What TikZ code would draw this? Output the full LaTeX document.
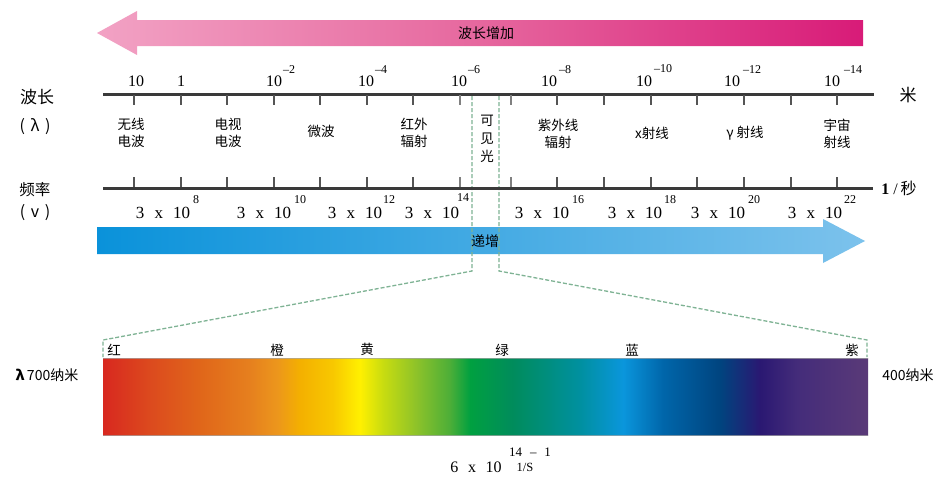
\documentclass[tikz,border=0pt]{standalone}
\usepackage{fontspec}
\setmainfont{Liberation Serif}
\newfontfamily\cjk{Noto Sans CJK SC}
\definecolor{axiscol}{HTML}{3A3A3A}
\definecolor{tickcol}{HTML}{555555}
\definecolor{dashcol}{HTML}{7FB394}
\definecolor{pinkL}{HTML}{F2A2C4}
\definecolor{pinkM}{HTML}{E6679E}
\definecolor{pinkR}{HTML}{D81B78}
\definecolor{blueL}{HTML}{0A92DA}
\definecolor{blueR}{HTML}{7CC2EC}
\definecolor{s01}{HTML}{D8281F}
\definecolor{s02}{HTML}{DC4A1E}
\definecolor{s03}{HTML}{E0661A}
\definecolor{s04}{HTML}{E6801E}
\definecolor{s05}{HTML}{EC961C}
\definecolor{s06}{HTML}{F4B000}
\definecolor{s07}{HTML}{F8C800}
\definecolor{s08}{HTML}{FFF000}
\definecolor{s09}{HTML}{C8DC10}
\definecolor{s10}{HTML}{8CC22A}
\definecolor{s11}{HTML}{4CAE38}
\definecolor{s12}{HTML}{00A040}
\definecolor{s13}{HTML}{008C5C}
\definecolor{s14}{HTML}{0090A0}
\definecolor{s15}{HTML}{0A96DC}
\definecolor{s16}{HTML}{0066AA}
\definecolor{s17}{HTML}{00447F}
\definecolor{s18}{HTML}{2A1872}
\definecolor{s19}{HTML}{442C7A}
\definecolor{s20}{HTML}{5A3A78}
\pgfdeclarehorizontalshading{spectrum}{100bp}{%
color(0bp)=(s01); color(25bp)=(s01); color(28.07bp)=(s02); color(31.34bp)=(s03);
color(34.61bp)=(s04); color(36.37bp)=(s05); color(37.88bp)=(s06); color(40.03bp)=(s07);
color(41.8bp)=(s08); color(43.3bp)=(s09); color(45.52bp)=(s10); color(47.68bp)=(s11);
color(48.99bp)=(s12); color(51.8bp)=(s13); color(56.18bp)=(s14); color(58.99bp)=(s15);
color(61.6bp)=(s16); color(65.33bp)=(s17); color(67.94bp)=(s18); color(70.36bp)=(s19);
color(75bp)=(s20); color(100bp)=(s20)}
\begin{document}
\begin{tikzpicture}[x=1pt,y=-1pt,
  every node/.style={inner sep=0pt,outer sep=0pt},
  cn/.style={font=\cjk\fontsize{14}{16}\selectfont,align=center},
  cat/.style={font=\cjk\fontsize{13.5}{17.5}\selectfont,align=center},
  side/.style={font=\cjk\fontsize{17}{19}\selectfont},
  wnum/.style={font=\fontsize{16}{18}\selectfont},
  fnum/.style={font=\fontsize{17}{19}\selectfont},
  supnum/.style={font=\fontsize{12}{13}\selectfont},
  axisline/.style={line width=3pt,draw=axiscol},
  tickline/.style={line width=2pt,draw=tickcol},
  greendash/.style={draw=dashcol,line width=1.3pt,dash pattern=on 4pt off 2pt},
]
\useasboundingbox (0,0) rectangle (951,479);
\fill[white] (0,0) rectangle (951,479);

% pink arrow
\shade[left color=pinkL,right color=pinkR,middle color=pinkM]
  (97,33) -- (137,11) -- (137,20) -- (863,20) -- (863,46) -- (137,46) -- (137,55) -- cycle;
\node[cn] (pinktext) at (486,33) {波长增加};

% blue arrow
\shade[left color=blueL,right color=blueR]
  (97,227) -- (823,227) -- (823,219) -- (865,241) -- (823,263) -- (823,254) -- (97,254) -- cycle;
\node[cn] (bluetext) at (485,241) {递增};

% green dashed guides
\coordinate (ga) at (472,96);
\coordinate (gb) at (472,271);
\coordinate (gc) at (103,340);
\coordinate (gd) at (103,357);
\coordinate (ha) at (499,96);
\coordinate (hb) at (499,271);
\coordinate (hc) at (867,340);
\coordinate (hd) at (867,357);
\draw[greendash] (ga) -- (gb) -- (gc) -- (gd);
\draw[greendash] (ha) -- (hb) -- (hc) -- (hd);

% axes
\coordinate (wl) at (103,94);
\coordinate (wr) at (874,94);
\coordinate (fl) at (103,188);
\coordinate (fr) at (873,188);
\draw[axisline] (wl) -- (wr);
\draw[axisline] (fl) -- (fr);
\foreach \x/\c in {134/tickcol,181/tickcol,227/tickcol,274/tickcol,320/tickcol,367/tickcol,413/tickcol,460/gray,511/gray,557/tickcol,604/tickcol,651/tickcol,697/tickcol,744/tickcol,791/tickcol,837/tickcol}{
  \coordinate (wt\x) at (\x,95);
  \coordinate (wb\x) at (\x,105);
  \coordinate (ft\x) at (\x,177);
  \coordinate (fb\x) at (\x,187);
  \draw[tickline,draw=\c] (wt\x) -- (wb\x);
  \draw[tickline,draw=\c] (ft\x) -- (fb\x);
}

% wavelength labels
\node[wnum] (w10) at (136,81) {10};
\node[wnum] (w1) at (181,81) {1};
\node[wnum] (wm2) at (274,81) {10};
\node[supnum] (sm2) at (289,70) {–2};
\node[wnum] (wm4) at (366,81) {10};
\node[supnum] (sm4) at (381,70) {–4};
\node[wnum] (wm6) at (459,81) {10};
\node[supnum] (sm6) at (474,70) {–6};
\node[wnum] (wm8) at (549,81) {10};
\node[supnum] (sm8) at (565,70) {–8};
\node[wnum] (wm10) at (644,81) {10};
\node[supnum] (sm10) at (663,69) {–10};
\node[wnum] (wm12) at (732,81) {10};
\node[supnum] (sm12) at (752,70) {–12};
\node[wnum] (wm14) at (832,81) {10};
\node[supnum] (sm14) at (853,70) {–14};
\node[side] (mi) at (908,95) {米};

% left side labels
\node[side] (bochang) at (37,97) {波长};
\node[side,font=\cjk\fontsize{16}{18}\selectfont] (lam) at (35,127) {(\hspace{0.35em}λ\hspace{0.35em})};
\node[side,font=\cjk\fontsize{15.5}{18}\selectfont] (pinlv) at (35,190) {频率};
\node[side,font=\cjk\fontsize{16}{18}\selectfont] (nu) at (35,213) {(\hspace{0.35em}v\hspace{0.35em})};

% categories
\node[cat] (c1) at (131,133) {无线\\电波};
\node[cat] (c2) at (228,133) {电视\\电波};
\node[cat] (c3) at (321,131) {微波};
\node[cat] (c4) at (414,133) {红外\\辐射};
\node[cat,font=\cjk\fontsize{13.5}{18}\selectfont] (c5) at (487,139) {可\\见\\光};
\node[cat] (c6) at (558,134) {紫外线\\辐射};
\node[cat] (c7) at (652,133) {x射线};
\node[cat] (c8) at (745,133) {γ 射线};
\node[cat] (c9) at (837,134) {宇宙\\射线};

% frequency labels
\newcommand{\tx}{3\hspace{0.6em}x\hspace{0.6em}10}
\node[fnum] (f8) at (163,213) {\tx};
\node[supnum] (e8) at (196,200) {8};
\node[fnum] (f10) at (264,213) {\tx};
\node[supnum] (e10) at (300,200) {10};
\node[fnum] (f12) at (355,213) {\tx};
\node[supnum] (e12) at (389,200) {12};
\node[fnum] (f14) at (432,213) {\tx};
\node[supnum] (e14) at (463,198) {14};
\node[fnum] (f16) at (542,213) {\tx};
\node[supnum] (e16) at (578,200) {16};
\node[fnum] (f18) at (635,213) {\tx};
\node[supnum] (e18) at (670,200) {18};
\node[fnum] (f20) at (718,213) {\tx};
\node[supnum] (e20) at (754,200) {20};
\node[fnum] (f22) at (815,213) {\tx};
\node[supnum] (e22) at (850,200) {22};
\node[font=\fontsize{16}{18}\selectfont] (persec) at (899,188) {\textbf{1} /\,{\cjk 秒}};

% spectrum
\shade[shading=spectrum] (103,358) rectangle (868,435);
\draw[gray!70,line width=1pt,opacity=0.7] (103,358) -- (868,358) (103,435) -- (868,435);
\node[cat] (red) at (114,350) {红};
\node[cat] (orange) at (277,350) {橙};
\node[cat] (yellow) at (367,349) {黄};
\node[cat] (green) at (502,350) {绿};
\node[cat] (blue) at (632,350) {蓝};
\node[cat] (violet) at (852,350) {紫};
\node[cn] (l700) at (47,375) {\textbf{λ}\,700纳米};
\node[cn] (l400) at (908,375) {400纳米};

% bottom formula
\node[fnum,font=\fontsize{16}{18}\selectfont] (six) at (476,467) {6\hspace{0.6em}x\hspace{0.6em}10};
\node[supnum,font=\fontsize{13}{14}\selectfont] (sixexp) at (530,452) {14\hspace{0.6em}–\hspace{0.6em}1};
\node[supnum,font=\fontsize{12.5}{14}\selectfont] (unit) at (525,467) {1/S};
\end{tikzpicture}
\end{document}
